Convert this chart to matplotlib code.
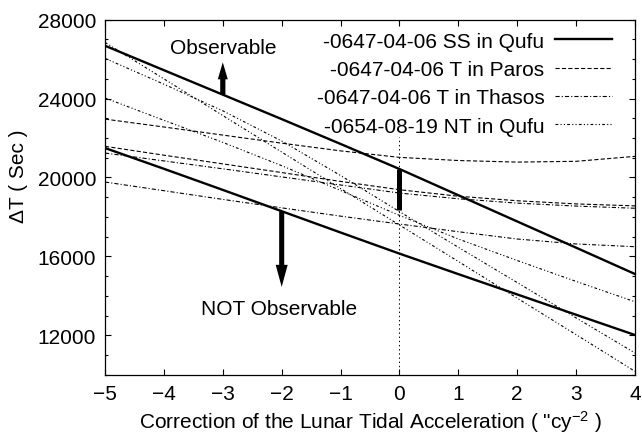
import matplotlib
matplotlib.use('Agg')
import matplotlib.pyplot as plt
import matplotlib.ticker as ticker

# ── data ─────────────────────────────────────────────────────────────────────
X = [-5, -4, -3, -2, -1, 0, 1, 2, 3, 4]

# -0647-04-06 SS in Qufu (upper / lower limit)
SS_QUFU_HI = [26680, 25440, 24200, 22960, 21700, 20430, 19100, 17770, 16440, 15105]
SS_QUFU_LO = [21494, 20440, 19370, 18290, 17210, 16140, 15100, 14070, 13040, 12013]

# -0647-04-06 T in Paros
T_PAROS_HI = [22960, 22560, 22150, 21740, 21350, 21020, 20860, 20780, 20820, 21070]
T_PAROS_LO = [21580, 21130, 20690, 20250, 19800, 19380, 19050, 18820, 18660, 18560]

# -0647-04-06 T in Thasos
T_THASOS_HI = [21240, 20840, 20440, 20030, 19620, 19210, 18920, 18700, 18550, 18440]
T_THASOS_LO = [19770, 19330, 18890, 18460, 18040, 17640, 17250, 16880, 16630, 16490]

# -0654-08-19 NT in Qufu
NT_QUFU_A = [26850, 25000, 23140, 21290, 19440, 17590, 15740, 13880, 12030, 10170]
NT_QUFU_B = [26040, 24730, 23380, 21850, 20100, 18270, 16460, 14670, 12880, 11100]
NT_QUFU_C = [24030, 22900, 21780, 20600, 19340, 18080, 16880, 15790, 14730, 13700]

LABELS = [
    '-0647-04-06 SS in Qufu',
    '-0647-04-06 T in Paros',
    '-0647-04-06 T in Thasos',
    '-0654-08-19 NT in Qufu',
]

# arrows: tail sits on the SS curve, tip at the given value
ARROW_X    = [-3, -2]
ARROW_TAIL = [24200, 18290]
ARROW_TIP  = [25840, 14450]

# bar at zero correction
BAR_X = 0
BAR_Y = [20430, 18330]
ZERO_LINE_TOP = 22050

# ── style ────────────────────────────────────────────────────────────────────
plt.rcParams['font.family'] = ['Liberation Sans', 'DejaVu Sans']
plt.rcParams['mathtext.fontset'] = 'custom'
plt.rcParams['mathtext.rm'] = 'Liberation Sans'
plt.rcParams['mathtext.it'] = 'Liberation Sans:italic'
plt.rcParams['lines.scale_dashes'] = False

FS = 15
THIN = 0.8
DASHED  = (0, (3.0, 1.6))
DASHDOT = (0, (3.0, 1.5, 0.8, 1.5))
DASHDOTDOT = (0, (2.0, 1.6, 0.8, 1.6, 0.8, 1.6))

fig = plt.figure(figsize=(6.42, 4.35), dpi=100)
ax = fig.add_axes([0.1636, 0.1363, 0.8255, 0.8161])

ax.plot(X, SS_QUFU_HI, color='k', lw=1.7, label=LABELS[0])
ax.plot(X, SS_QUFU_LO, color='k', lw=1.7)
ax.plot(X, T_PAROS_HI, color='k', lw=THIN, linestyle=DASHED, label=LABELS[1])
ax.plot(X, T_PAROS_LO, color='k', lw=THIN, linestyle=DASHED)
ax.plot(X, T_THASOS_HI, color='k', lw=THIN, linestyle=DASHDOT, label=LABELS[2])
ax.plot(X, T_THASOS_LO, color='k', lw=THIN, linestyle=DASHDOT)
ax.plot(X, NT_QUFU_A, color='k', lw=THIN, linestyle=DASHDOTDOT, label=LABELS[3])
ax.plot(X, NT_QUFU_B, color='k', lw=THIN, linestyle=DASHDOTDOT)
ax.plot(X, NT_QUFU_C, color='k', lw=THIN, linestyle=DASHDOTDOT)

# zero-correction marker
ax.plot([BAR_X, BAR_X], [10000, ZERO_LINE_TOP], color='k', lw=0.7, linestyle=(0, (1, 2)))
ax.plot([BAR_X, BAR_X], BAR_Y, color='k', lw=3.6, solid_capstyle='butt')

# observable / not observable arrows
ax.annotate('', xy=(ARROW_X[0], ARROW_TIP[0]), xytext=(ARROW_X[0], ARROW_TAIL[0]),
            arrowprops=dict(arrowstyle='simple,head_length=0.85,head_width=0.5,tail_width=0.26',
                            mutation_scale=14.4, fc='k', ec='k', lw=0, shrinkA=0, shrinkB=0))
ax.annotate('', xy=(ARROW_X[1], ARROW_TIP[1]), xytext=(ARROW_X[1], ARROW_TAIL[1]),
            arrowprops=dict(arrowstyle='simple,head_length=0.92,head_width=0.5,tail_width=0.21',
                            mutation_scale=17.3, fc='k', ec='k', lw=0, shrinkA=0, shrinkB=0))
ax.text(-3.0, 26310, 'Observable', ha='center', va='baseline', fontsize=FS)
ax.text(-2.05, 13077, 'NOT Observable', ha='center', va='baseline', fontsize=FS)

# axes
ax.set_xlim(-5, 4)
ax.set_ylim(10000, 28000)
ax.xaxis.set_major_locator(ticker.MultipleLocator(1))
ax.yaxis.set_major_locator(ticker.MultipleLocator(4000))
ax.yaxis.set_minor_locator(ticker.MultipleLocator(1000))
ax.tick_params(which='both', direction='in', top=True, right=True,
               labelsize=FS, width=0.8, pad=6.5)
ax.tick_params(which='major', length=4.3)
ax.tick_params(which='minor', length=2.2)
for s in ax.spines.values():
    s.set_linewidth(0.9)

ax.set_xlabel('Correction of the Lunar Tidal Acceleration ( "cy$^{-2}$ )', fontsize=FS, labelpad=4)
ax.set_ylabel('ΔT ( Sec )', fontsize=FS)
ax.yaxis.set_label_coords(-0.145, 0.5625)

leg = ax.legend(loc='upper right', bbox_to_anchor=(0.9566, 0.9665), frameon=False,
                markerfirst=False, fontsize=FS, handlelength=2.75, handletextpad=0.5,
                labelspacing=0.45, borderpad=0, borderaxespad=0)
# right-align the entries so the line samples stack up
for col in leg._legend_handle_box.get_children():
    col.align = 'right'

fig.savefig('out.png', dpi=100)
